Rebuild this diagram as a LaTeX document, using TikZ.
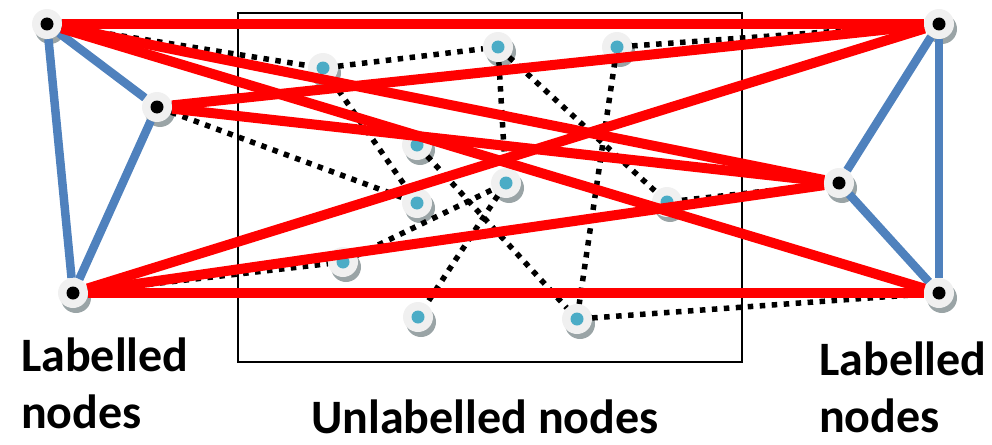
\documentclass[tikz,border=0pt]{standalone}
\usepackage{fontspec}
\setmainfont{Carlito}
\usetikzlibrary{positioning,shadows}
\definecolor{Miblue}{HTML}{4F81BD}
\definecolor{Mired}{HTML}{FF0000}
\definecolor{Micyan}{HTML}{4BACC6}
\definecolor{Midisc}{HTML}{F0F0F0}
\definecolor{Mishadow}{HTML}{9AA4A6}

\tikzset{
  basenode/.style={circle,inner sep=0pt,minimum size=30pt,fill=Midisc,
    drop shadow={shadow xshift=3pt,shadow yshift=-5pt,fill=Mishadow,opacity=1}},
  lnode/.style={basenode,path picture={\fill[black] (path picture bounding box.center) circle (6.5pt);}},
  unode/.style={basenode,path picture={\fill[Micyan] (path picture bounding box.center) circle (6.5pt);}},
  redge/.style={Mired,line width=10pt},
  bedge/.style={Miblue,line width=8.5pt},
  dedge/.style={black,line width=5.5pt,dash pattern=on 5.5pt off 6.5pt},
  caption/.style={inner sep=0pt,align=left,font=\fontsize{48}{57}\selectfont\bfseries}
}

\begin{document}
\begin{tikzpicture}[x=1pt,y=-1pt]
\useasboundingbox (0,0) rectangle (992,444);
% box round the unlabelled nodes
\draw[line width=2.5pt] (238,13) rectangle (742,362);

% labelled nodes
\node[lnode] (L1) at (47,24) {};
\node[lnode] (L2) at (157,107) {};
\node[lnode] (L3) at (73,293) {};
\node[lnode] (R1) at (939,24) {};
\node[lnode] (R2) at (839,183) {};
\node[lnode] (R3) at (939,293) {};

% unlabelled nodes
\node[unode] (U1) at (323,68) {};
\node[unode] (U2) at (498,47) {};
\node[unode] (U3) at (617,47) {};
\node[unode] (U4) at (417,145) {};
\node[unode] (U5) at (506,183) {};
\node[unode] (U6) at (417,203) {};
\node[unode] (U7) at (667,202) {};
\node[unode] (U8) at (343,262) {};
\node[unode] (U9) at (418,317) {};
\node[unode] (U10) at (577,319) {};

% dotted links
\foreach \a/\b in {L1/U1,U1/U2,U1/U6,L2/U6,U2/U5,U2/U7,U3/R1,U3/U10,U4/U10,
  U5/U9,U8/U5,L3/U8,U7/R2,U10/R3}
  \draw[dedge] (\a) -- (\b);

% blue links
\foreach \a/\b in {L1/L2,L1/L3,L2/L3,R1/R2,R1/R3,R2/R3}
  \draw[bedge] (\a) -- (\b);

% red links
\foreach \a/\b in {L1/R1,L1/R2,L1/R3,L2/R1,L2/R2,L3/R1,L3/R2,L3/R3}
  \draw[redge] (\a) -- (\b);

% captions
\node[caption,anchor=north west] (capL) at (21,338) {Labelled\\nodes};
\node[caption,anchor=base west] (capU) at (311,433) {Unlabelled nodes};
\node[caption,anchor=north west] (capR) at (819,342) {Labelled\\nodes};
\end{tikzpicture}
\end{document}
